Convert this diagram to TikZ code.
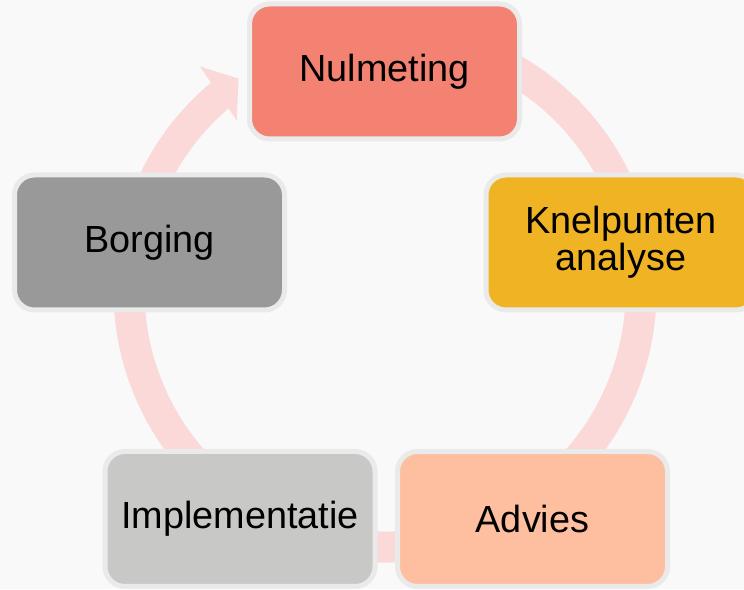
\documentclass[tikz,border=0pt]{standalone}
\usepackage{fontspec}
\setmainfont{Liberation Sans}
\definecolor{bgcol}{HTML}{F9F9F9}
\definecolor{ringcol}{HTML}{FAD9D8}
\definecolor{boxline}{HTML}{EAEAEA}
\definecolor{cNul}{HTML}{F38272}
\definecolor{cKnel}{HTML}{F0B323}
\definecolor{cBorg}{HTML}{999999}
\definecolor{cImpl}{HTML}{C8C8C6}
\definecolor{cAdv}{HTML}{FDBF9F}
\begin{document}
\begin{tikzpicture}[x=1pt,y=1pt,
  box/.style={draw=boxline, line width=5pt, rounded corners=20pt,
    minimum width=270pt, minimum height=135pt, align=center,
    font=\fontsize{37.8}{37}\selectfont, text=black, inner sep=0pt}]
\useasboundingbox (0,0) rectangle (744,589);
\clip (0,0) rectangle (744,589);
\fill[bgcol] (0,0) rectangle (744,589);
\coordinate (C) at (385,298);
\draw[line width=31pt, ringcol] ([shift={(110:256pt)}]C) arc[start angle=110, end angle=-231, radius=256pt];
\fill[ringcol] ([shift={(129.5:291pt)}]C) -- ([shift={(124.6:258pt)}]C) -- ([shift={(131:226pt)}]C) -- cycle;
\node[box, fill=cNul] (nul) at (384.5,517.5) {Nulmeting};
\node[box, fill=cKnel] (knel) at (621,346.5) {Knelpunten\\analyse};
\node[box, fill=cBorg] (borg) at (149.5,346.5) {Borging};
\node[box, fill=cImpl] (impl) at (240,70) {Implementatie};
\node[box, fill=cAdv] (adv) at (532.5,70) {Advies};
\end{tikzpicture}
\end{document}
